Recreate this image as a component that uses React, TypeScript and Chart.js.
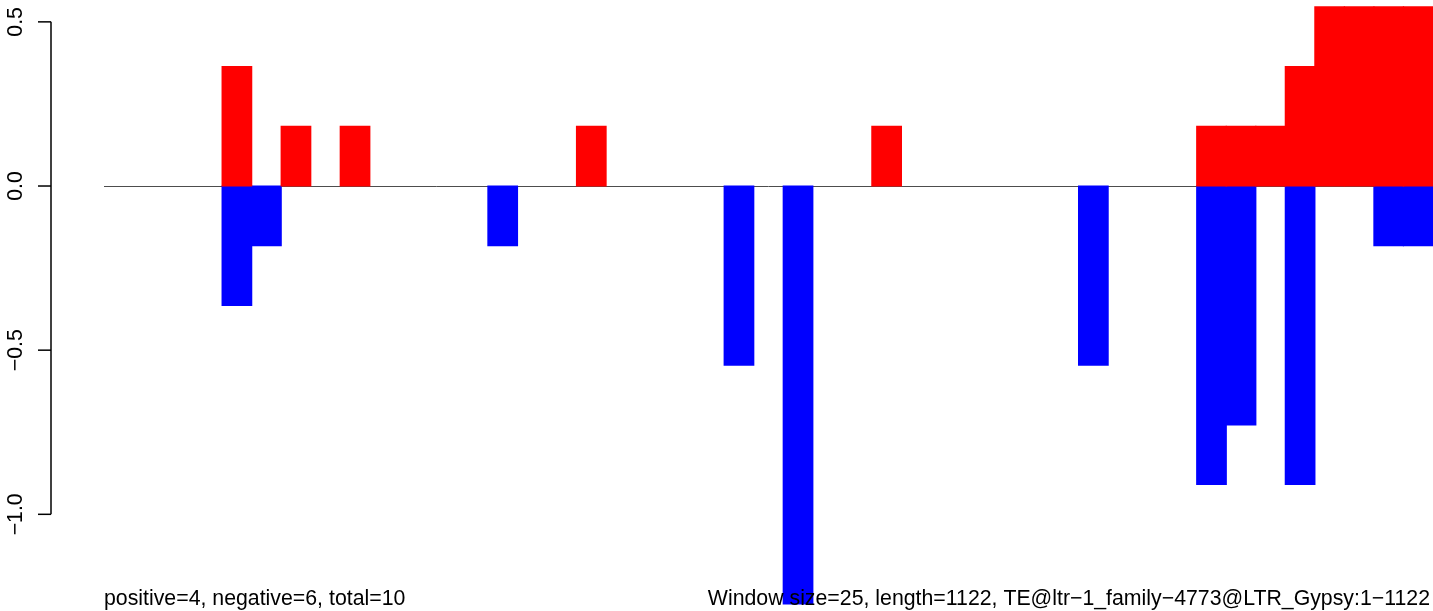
import React, { useEffect, useRef } from "react";
import { Chart, registerables } from "chart.js";

Chart.register(...registerables);

const binLabels: string[] = Array.from({ length: 45 }, (_, i) => String(i + 1));

const positiveValues: number[] = [
  0, 0, 0, 0, 0.3636, 0, 0.1818, 0, 0.1818, 0,
  0, 0, 0, 0, 0, 0, 0.1818, 0, 0, 0,
  0, 0, 0, 0, 0, 0, 0.1818, 0, 0, 0,
  0, 0, 0, 0, 0, 0, 0, 0.1818, 0.1818, 0.1818,
  0.3636, 0.5455, 0.5455, 0.5455, 0.5455,
];

const negativeValues: number[] = [
  0, 0, 0, 0, -0.3636, -0.1818, 0, 0, 0, 0,
  0, 0, 0, -0.1818, 0, 0, 0, 0, 0, 0,
  0, -0.5455, 0, -1.2727, 0, 0, 0, 0, 0, 0,
  0, 0, 0, -0.5455, 0, 0, 0, -0.9091, -0.7273, 0,
  -0.9091, 0, 0, -0.1818, -0.1818,
];

const yTickValues: number[] = [0.5, 0, -0.5, -1.0];
const yTickLabels: string[] = ["0.5", "0.0", "\u22120.5", "\u22121.0"];

const leftNote = "positive=4, negative=6, total=10";
const rightNote = "Window size=25, length=1122, TE@ltr\u22121_family\u22124773@LTR_Gypsy:1\u22121122";

const FONT = '21.3px "Liberation Sans", Arial, sans-serif';

const decorPlugin = {
  id: "decor",
  beforeDatasetsDraw(chart: any) {
    const { ctx, chartArea, scales } = chart;
    const y0 = Math.round(scales.y.getPixelForValue(0)) + 0.5;
    ctx.save();
    ctx.strokeStyle = "#4d4d4d";
    ctx.lineWidth = 1;
    ctx.beginPath();
    ctx.moveTo(chartArea.left, y0);
    ctx.lineTo(chartArea.right, y0);
    ctx.stroke();
    ctx.restore();
  },
  afterDraw(chart: any) {
    const { ctx, scales } = chart;
    const ys = scales.y;
    const axisX = 51;
    ctx.save();
    ctx.strokeStyle = "#000";
    ctx.lineWidth = 1.5;
    ctx.beginPath();
    ctx.moveTo(axisX, ys.getPixelForValue(yTickValues[0]));
    ctx.lineTo(axisX, ys.getPixelForValue(yTickValues[yTickValues.length - 1]));
    ctx.stroke();
    ctx.fillStyle = "#000";
    ctx.font = FONT;
    yTickValues.forEach((v, i) => {
      const py = ys.getPixelForValue(v);
      ctx.beginPath();
      ctx.moveTo(38, py);
      ctx.lineTo(axisX, py);
      ctx.stroke();
      ctx.save();
      ctx.translate(22, py);
      ctx.rotate(-Math.PI / 2);
      ctx.textAlign = "center";
      ctx.textBaseline = "alphabetic";
      ctx.fillText(yTickLabels[i], 0, 0);
      ctx.restore();
    });
    ctx.textBaseline = "alphabetic";
    ctx.textAlign = "left";
    ctx.fillText(leftNote, 104, 605);
    ctx.textAlign = "right";
    ctx.fillText(rightNote, 1430, 605);
    ctx.restore();
  },
};

const nonZero = (arr: number[]) => arr.map((v) => (v === 0 ? null : v));

export default function App() {
  const canvasRef = useRef<HTMLCanvasElement | null>(null);

  useEffect(() => {
    document.body.style.margin = "0";
    const canvas = canvasRef.current;
    if (!canvas) return;
    const chart = new Chart(canvas, {
      type: "bar",
      data: {
        labels: binLabels,
        datasets: [
          {
            label: "positive",
            data: nonZero(positiveValues),
            backgroundColor: "#ff0000",
            borderWidth: 0,
            inflateAmount: 0.6,
            barPercentage: 1,
            categoryPercentage: 1,
          },
          {
            label: "negative",
            data: nonZero(negativeValues),
            backgroundColor: "#0000ff",
            borderWidth: 0,
            inflateAmount: 0.6,
            barPercentage: 1,
            categoryPercentage: 1,
          },
        ],
      },
      options: {
        responsive: false,
        animation: false,
        devicePixelRatio: 1,
        layout: { padding: { left: 104, right: 0, top: 0, bottom: 0 } },
        plugins: {
          legend: { display: false },
          tooltip: { enabled: false },
          title: { display: false },
        },
        scales: {
          x: { stacked: true, display: false, grid: { display: false } },
          y: {
            stacked: false,
            display: false,
            min: -1.2945,
            max: 0.5666,
            grid: { display: false },
          },
        },
      },
      plugins: [decorPlugin],
    });
    return () => chart.destroy();
  }, []);

  return (
    <div style={{ position: "absolute", left: 0, top: 0, width: 1433, height: 611, background: "#fff" }}>
      <canvas ref={canvasRef} width={1433} height={611} style={{ display: "block" }} />
    </div>
  );
}
